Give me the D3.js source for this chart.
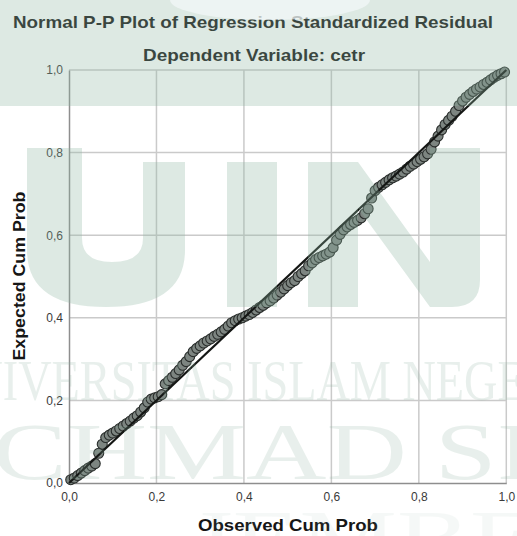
<!DOCTYPE html>
<html>
<head>
<meta charset="utf-8">
<script src="https://cdn.jsdelivr.net/npm/d3@7"></script>
<style>
  body { margin: 0; background: #fff; }
  svg { display: block; font-family: "Liberation Sans", Arial, sans-serif; }
</style>
</head>
<body>
<div id="chart"></div>
<script>
// values
const observedCumProb = [
  0.004, 0.012, 0.020, 0.028, 0.036, 0.044, 0.052, 0.060, 0.068, 0.076,
  0.084, 0.092, 0.100, 0.108, 0.116, 0.124, 0.132, 0.140, 0.148, 0.156,
  0.164, 0.172, 0.180, 0.188, 0.196, 0.204, 0.212, 0.220, 0.228, 0.236,
  0.244, 0.252, 0.260, 0.268, 0.276, 0.284, 0.292, 0.300, 0.308, 0.316,
  0.324, 0.332, 0.340, 0.348, 0.356, 0.364, 0.372, 0.380, 0.388, 0.396,
  0.404, 0.412, 0.420, 0.428, 0.436, 0.444, 0.452, 0.460, 0.468, 0.476,
  0.484, 0.492, 0.500, 0.508, 0.516, 0.524, 0.532, 0.540, 0.548, 0.556,
  0.564, 0.572, 0.580, 0.588, 0.596, 0.604, 0.612, 0.620, 0.628, 0.636,
  0.644, 0.652, 0.660, 0.668, 0.676, 0.684, 0.692, 0.700, 0.708, 0.716,
  0.724, 0.732, 0.740, 0.748, 0.756, 0.764, 0.772, 0.780, 0.788, 0.796,
  0.804, 0.812, 0.820, 0.828, 0.836, 0.844, 0.852, 0.860, 0.868, 0.876,
  0.884, 0.892, 0.900, 0.908, 0.916, 0.924, 0.932, 0.940, 0.948, 0.956,
  0.964, 0.972, 0.980, 0.988, 0.996
];
const expectedCumProb = [
  0.008, 0.012, 0.018, 0.024, 0.030, 0.036, 0.041, 0.047, 0.072, 0.094,
  0.110, 0.116, 0.121, 0.126, 0.132, 0.138, 0.144, 0.150, 0.157, 0.163,
  0.172, 0.182, 0.196, 0.203, 0.206, 0.209, 0.214, 0.240, 0.248, 0.256,
  0.265, 0.274, 0.285, 0.294, 0.306, 0.318, 0.326, 0.332, 0.339, 0.344,
  0.349, 0.355, 0.360, 0.366, 0.372, 0.380, 0.388, 0.393, 0.397, 0.400,
  0.404, 0.408, 0.413, 0.419, 0.425, 0.430, 0.436, 0.441, 0.448, 0.455,
  0.462, 0.470, 0.478, 0.485, 0.490, 0.500, 0.507, 0.514, 0.526, 0.533,
  0.541, 0.546, 0.550, 0.554, 0.559, 0.570, 0.588, 0.602, 0.613, 0.620,
  0.626, 0.631, 0.636, 0.642, 0.652, 0.664, 0.690, 0.708, 0.716, 0.722,
  0.728, 0.734, 0.739, 0.743, 0.748, 0.753, 0.760, 0.767, 0.772, 0.778,
  0.784, 0.790, 0.797, 0.808, 0.826, 0.840, 0.855, 0.868, 0.878, 0.888,
  0.900, 0.914, 0.925, 0.934, 0.941, 0.948, 0.954, 0.959, 0.965, 0.970,
  0.976, 0.982, 0.987, 0.991, 0.995
];
const axisTicks = [0, 0.2, 0.4, 0.6, 0.8, 1.0];
const referenceLine = [[0, 0], [1, 1]];

const chartTitle = "Normal P-P Plot of Regression Standardized Residual";
const chartSubtitle = "Dependent Variable: cetr";
const xLabel = "Observed Cum Prob";
const yLabel = "Expected Cum Prob";

const width = 517, height = 536;
const margin = { top: 70, right: 10, bottom: 53, left: 69 };

// SPSS style decimal comma
const commaFormat = d3.formatLocale({ decimal: ",", thousands: ".", grouping: [3], currency: ["", ""] }).format(".1f");

const points = observedCumProb.map((o, i) => ({ o: o, e: expectedCumProb[i] }));

const svg = d3.select("#chart").append("svg")
    .attr("width", width)
    .attr("height", height)
    .attr("viewBox", [0, 0, width, height]);

const x = d3.scaleLinear()
    .domain([0, 1])
    .range([margin.left, width - margin.right - 0.7]);

const y = d3.scaleLinear()
    .domain([0, 1])
    .range([height - margin.bottom, margin.top]);

// grid
svg.append("g")
    .attr("stroke", "#cacaca")
    .attr("stroke-width", 1.5)
    .call(g => g.selectAll("line.v").data(axisTicks.slice(1)).join("line")
        .attr("class", "v")
        .attr("x1", d => x(d)).attr("x2", d => x(d))
        .attr("y1", y(0)).attr("y2", y(1)))
    .call(g => g.selectAll("line.h").data(axisTicks.slice(1)).join("line")
        .attr("class", "h")
        .attr("y1", d => y(d)).attr("y2", d => y(d))
        .attr("x1", x(0)).attr("x2", x(1)));

// axes
svg.append("g")
    .attr("transform", `translate(0,${y(0)})`)
    .call(d3.axisBottom(x).tickValues(axisTicks).tickFormat(commaFormat).tickSize(0).tickPadding(9))
    .call(g => g.select(".domain").attr("stroke", "#8e8e8e").attr("stroke-width", 1.5))
    .call(g => g.selectAll("text").attr("fill", "#3a3a3a").style("font-size", "12px")
        .style("font-family", "'Liberation Sans', Arial, sans-serif"));

svg.append("g")
    .attr("transform", `translate(${x(0)},0)`)
    .call(d3.axisLeft(y).tickValues(axisTicks).tickFormat(commaFormat).tickSize(0).tickPadding(6))
    .call(g => g.select(".domain").attr("stroke", "#8e8e8e").attr("stroke-width", 1.5))
    .call(g => g.selectAll("text").attr("fill", "#3a3a3a").style("font-size", "12px")
        .style("font-family", "'Liberation Sans', Arial, sans-serif"));

// points
svg.append("g")
    .attr("fill", "#7d8581")
    .attr("stroke", "#2a2e2c")
    .attr("stroke-width", 1.1)
    .selectAll("circle")
    .data(points)
    .join("circle")
        .attr("cx", d => x(d.o))
        .attr("cy", d => y(d.e))
        .attr("r", 5);

// expected line
svg.append("path")
    .datum(referenceLine)
    .attr("fill", "none")
    .attr("stroke", "#141614")
    .attr("stroke-width", 2.2)
    .attr("d", d3.line().x(d => x(d[0])).y(d => y(d[1])));

// titles
svg.append("text")
    .attr("x", 253).attr("y", 28)
    .attr("text-anchor", "middle")
    .attr("textLength", 480).attr("lengthAdjust", "spacingAndGlyphs")
    .style("font-size", "17px").style("font-weight", "bold")
    .attr("fill", "#161616")
    .text(chartTitle);

svg.append("text")
    .attr("x", 254).attr("y", 61)
    .attr("text-anchor", "middle")
    .attr("textLength", 222).attr("lengthAdjust", "spacingAndGlyphs")
    .style("font-size", "17px").style("font-weight", "bold")
    .attr("fill", "#161616")
    .text(chartSubtitle);

svg.append("text")
    .attr("x", 288).attr("y", 531)
    .attr("text-anchor", "middle")
    .attr("textLength", 180).attr("lengthAdjust", "spacingAndGlyphs")
    .style("font-size", "16.5px").style("font-weight", "bold")
    .attr("fill", "#161616")
    .text(xLabel);

svg.append("text")
    .attr("transform", "translate(24.5,276) rotate(-90)")
    .attr("text-anchor", "middle")
    .attr("textLength", 169).attr("lengthAdjust", "spacingAndGlyphs")
    .style("font-size", "16.5px").style("font-weight", "bold")
    .attr("fill", "#161616")
    .text(yLabel);

// faint university watermark laid over the picture
const wm = svg.append("g").attr("pointer-events", "none");
const wmGreen = "#8fb5a2";
wm.append("rect").attr("x", 0).attr("y", 0).attr("width", width).attr("height", 106)
    .attr("fill", wmGreen).attr("opacity", 0.3);
wm.append("ellipse").attr("cx", 270).attr("cy", 0).attr("rx", 100).attr("ry", 20)
    .attr("fill", "#f4f8fa").attr("opacity", 0.7);
wm.append("path")
    .attr("d", "M27,148 L82,148 L82,238 Q82,262 112,262 Q143,262 143,238 L143,162 L185,162 L185,250 Q185,307 106,307 Q27,307 27,250 Z")
    .attr("fill", wmGreen).attr("opacity", 0.3);
wm.append("rect").attr("x", 227).attr("y", 162).attr("width", 50).attr("height", 145)
    .attr("fill", wmGreen).attr("opacity", 0.3);
wm.append("path")
    .attr("d", "M308,162 L358,162 L430,262 L430,148 L480,148 L480,280 Q480,307 452,307 L430,307 L358,208 L358,307 L308,307 Z")
    .attr("fill", wmGreen).attr("opacity", 0.3);
wm.append("text").attr("x", -64).attr("y", 400)
    .attr("textLength", 636).attr("lengthAdjust", "spacingAndGlyphs")
    .style("font-family", "'Liberation Serif', serif").style("font-size", "57px")
    .attr("fill", wmGreen).attr("opacity", 0.2)
    .text("UNIVERSITAS ISLAM NEGERI");
wm.append("text").attr("x", -88).attr("y", 479)
    .attr("textLength", 900).attr("lengthAdjust", "spacingAndGlyphs")
    .style("font-family", "'Liberation Serif', serif").style("font-size", "80px")
    .attr("fill", wmGreen).attr("opacity", 0.2)
    .text("ACHMAD SIDDIQ");
wm.append("text").attr("x", 190).attr("y", 566)
    .attr("textLength", 420).attr("lengthAdjust", "spacingAndGlyphs")
    .style("font-family", "'Liberation Serif', serif").style("font-size", "80px")
    .attr("fill", wmGreen).attr("opacity", 0.08)
    .text("JEMBER");
</script>
</body>
</html>
